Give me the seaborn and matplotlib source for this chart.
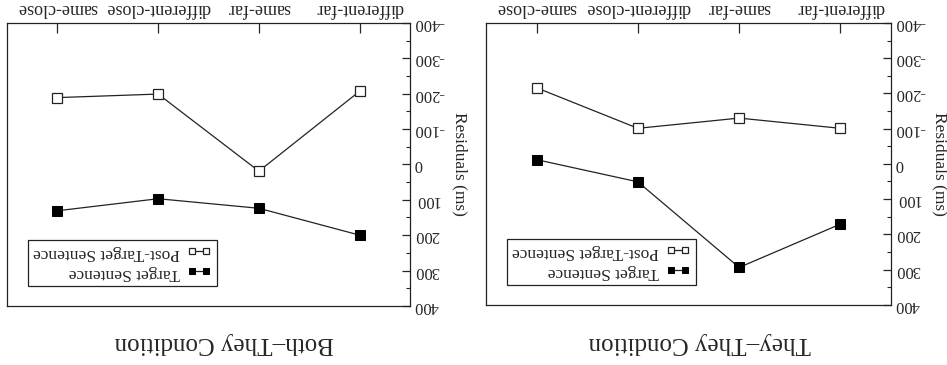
import matplotlib
matplotlib.use("Agg")
import matplotlib.pyplot as plt
import seaborn as sns
import numpy as np
from matplotlib.ticker import MultipleLocator

# Data (original orientation order, left to right)
categories = ["different-far", "same-far", "different-close", "same-close"]
they_target = [171, 294, 51, -12]
they_post = [-101, -130, -101, -216]
both_target = [200, 124, 97, 131]
both_post = [-207, 19, -199, -189]
y_ticks = [-400, -300, -200, -100, 0, 100, 200, 300, 400]
titles = ["Both\u2013They Condition", "They\u2013They Condition"]
ylabel = "Residuals (ms)"
series_names = ["Target Sentence", "Post-Target Sentence"]

sns.set_style("ticks")
plt.rcParams["font.family"] = ["Liberation Serif", "DejaVu Serif"]
plt.rcParams["axes.unicode_minus"] = False

fig = plt.figure(figsize=(9.47, 3.65), dpi=100)

panels = [
    dict(rect=[7 / 947, 0.162, 403 / 947, 0.775], target=both_target, post=both_post,
         title=titles[0], tx=224 / 947, lab_x=1.144),
    dict(rect=[486 / 947, 0.165, 405 / 947, 0.772], target=they_target, post=they_post,
         title=titles[1], tx=700 / 947, lab_x=1.141),
]

line_col = "#222222"
for p in panels:
    ax = fig.add_axes(p["rect"])
    sns.lineplot(x=categories, y=p["target"], ax=ax, sort=False, color=line_col, lw=0.9,
                 marker="s", markersize=6.5, markerfacecolor="black", markeredgecolor="black",
                 label=series_names[0])
    sns.lineplot(x=categories, y=p["post"], ax=ax, sort=False, color=line_col, lw=0.9,
                 marker="s", markersize=6.5, markerfacecolor="white", markeredgecolor="#222222",
                 markeredgewidth=0.9, label=series_names[1])
    # upside-down presentation
    ax.set_xlim(3.5, -0.5)
    ax.set_ylim(400, -400)
    ax.xaxis.tick_top()
    ax.yaxis.tick_right()
    ax.set_yticks(y_ticks)
    ax.yaxis.set_minor_locator(MultipleLocator(50))
    ax.tick_params(axis="y", which="major", direction="in", length=6, width=0.9,
                   labelsize=12, labelrotation=180, pad=3, right=True, left=False)
    ax.tick_params(axis="y", which="minor", direction="in", length=3, width=0.8,
                   right=True, left=False)
    ax.tick_params(axis="x", which="major", direction="in", length=7, width=0.9,
                   labelsize=13, labelrotation=180, pad=4, top=True, bottom=False)
    for lab in ax.get_xticklabels():
        lab.set_fontweight("medium")
    for lab in ax.get_yticklabels():
        lab.set_va("center")
    ax.set_xlabel("")
    ax.set_ylabel(ylabel, rotation=270, fontsize=12.5, va="center")
    ax.yaxis.set_label_position("right")
    ax.yaxis.set_label_coords(p["lab_x"], 0.5)
    for s in ax.spines.values():
        s.set_linewidth(0.9)
        s.set_color("#222222")
    handles, labels = ax.get_legend_handles_labels()
    leg = ax.legend(handles[::-1], labels[::-1], loc="lower left",
                    bbox_to_anchor=(0.052, 0.07), borderaxespad=0, fancybox=False,
                    edgecolor="#222222", framealpha=1, markerfirst=False, numpoints=2,
                    handlelength=1.4, markerscale=0.75, handletextpad=0.4, fontsize=12.5,
                    borderpad=0.3, labelspacing=0.2)
    leg.get_frame().set_linewidth(0.9)
    for t in leg.get_texts():
        t.set_rotation(180)
    fig.text(p["tx"], 0.06, p["title"], rotation=180, ha="center", va="center",
             fontsize=18)

fig.savefig("out.png", dpi=100)
